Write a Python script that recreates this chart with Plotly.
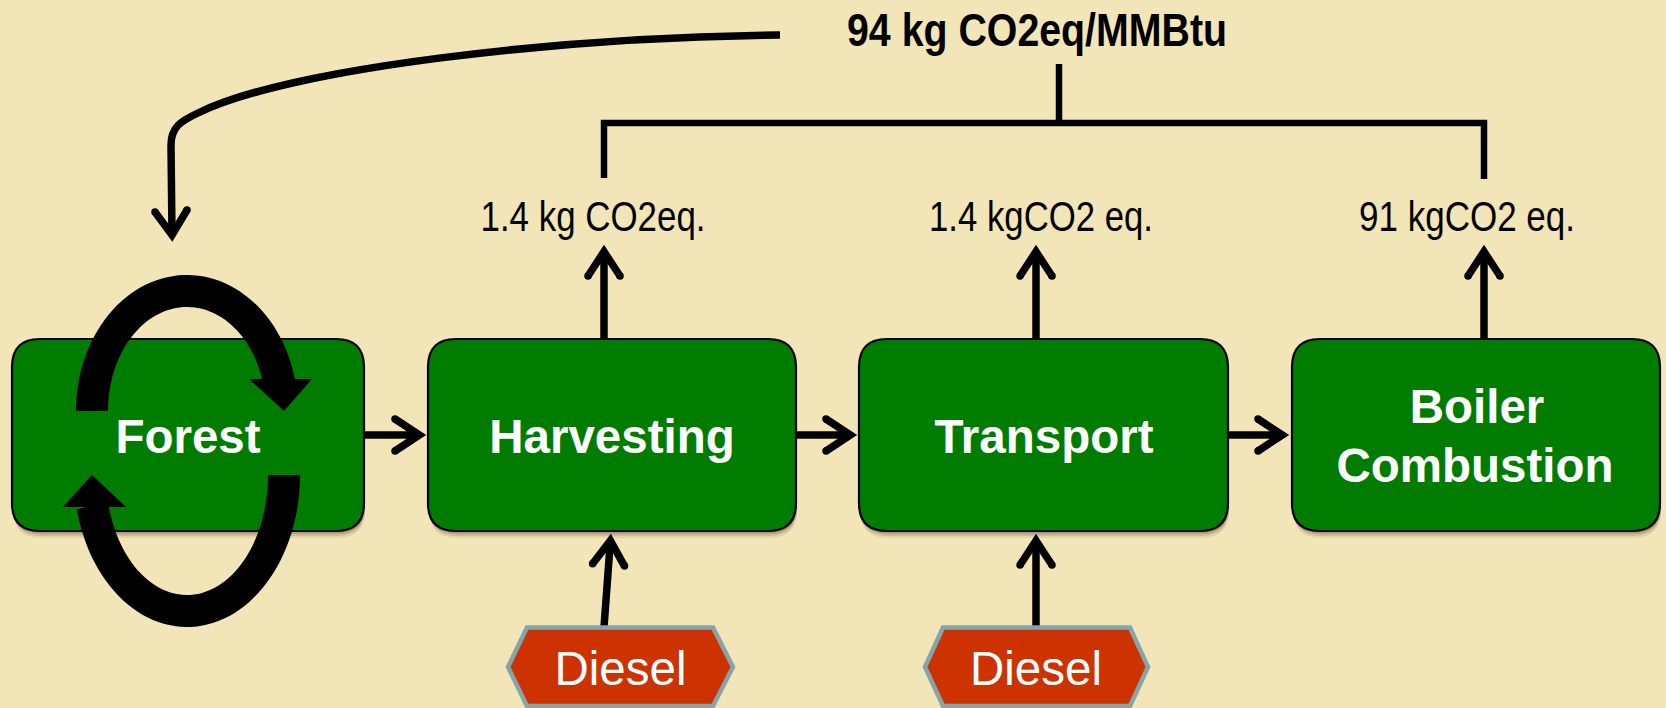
import numpy as np
import plotly.graph_objects as go

# ---- content ----
stage_labels = ["Forest", "Harvesting", "Transport", "Boiler", "Combustion"]
emission_labels = ["1.4 kg CO2eq.", "1.4 kgCO2 eq.", "91 kgCO2 eq."]
total_label = ["94 kg CO2eq/MMBtu"]
fuel_labels = ["Diesel", "Diesel"]

# ---- styles ----
BG = "#F2E6B9"
GREEN = "#007C00"
RED = "#CC3300"
HEX_EDGE = "#86A5A8"
W, H = 1666, 708
shapes = []


def path(d, fill=None, lw=0, color="black", opacity=None):
    s = dict(type="path", path=d, xref="x", yref="y", layer="below",
             line=dict(color=color, width=lw))
    if fill:
        s["fillcolor"] = fill
    if opacity is not None:
        s["opacity"] = opacity
    shapes.append(s)


def rrect_path(x0, y0, x1, y1, r=28):
    return (f"M{x0+r},{y0} L{x1-r},{y0} Q{x1},{y0} {x1},{y0+r} L{x1},{y1-r} Q{x1},{y1} {x1-r},{y1} "
            f"L{x0+r},{y1} Q{x0},{y1} {x0},{y1-r} L{x0},{y0+r} Q{x0},{y0} {x0+r},{y0} Z")


def poly(pts):
    return "M" + " L".join(f"{x:.1f},{y:.1f}" for x, y in pts) + " Z"


def box(x0, x1, y0=339, y1=531):
    for off, op in ((7, .10), (5, .14), (3, .22)):
        path(rrect_path(x0 + 1, y0 + off, x1 + 1, y1 + off), fill="#4a3a10", opacity=op)
    path(rrect_path(x0, y0, x1, y1), fill=GREEN, lw=2.2)


def line(d, lw=6.5):
    path(d, lw=lw)


def dot(x, y, d=7):
    shapes.append(dict(type="circle", xref="x", yref="y", layer="below",
                       x0=x - d / 2, x1=x + d / 2, y0=y - d / 2, y1=y + d / 2,
                       fillcolor="black", line=dict(width=0)))


def arrow(x0, y0, tip_x, tip_y, lw=7.5, length=33, half=16):
    """Open arrow: (tip_x, tip_y) is the outer point of the mitred head."""
    v = np.array([tip_x - x0, tip_y - y0], float)
    u = v / np.linalg.norm(v)
    n = np.array([-u[1], u[0]])
    tip = np.array([tip_x, tip_y], float)
    back = (lw / 2) * np.hypot(length, half) / half
    c = tip - u * back
    a = c - u * (length - back) + n * half
    b = c - u * (length - back) - n * half
    line(f"M{x0},{y0} L{c[0]:.1f},{c[1]:.1f}", lw)
    line(f"M{a[0]:.1f},{a[1]:.1f} L{c[0]:.1f},{c[1]:.1f} L{b[0]:.1f},{b[1]:.1f}", lw)
    dot(*a, lw)
    dot(*b, lw)


def ring_arc(cx, cy, rxo, ryo, rxi, ryi, t0, t1, n=60):
    t = np.radians(np.linspace(t0, t1, n))
    outer = np.c_[cx + rxo * np.cos(t), cy + ryo * np.sin(t)]
    t = t[::-1]
    inner = np.c_[cx + rxi * np.cos(t), cy + ryi * np.sin(t)]
    return poly(np.vstack([outer, inner]))


# boxes
box(12, 364)
box(428, 796)
box(859, 1228)
box(1292, 1660)

# forest cycle arrows
path(ring_arc(187, 411, 111, 136, 79, 104, 180, 346.5), fill="black")
path(poly([(249, 379), (312, 379), (284, 411)]), fill="black")
path(ring_arc(187, 475, 113, 152, 81, 120, 0, 167), fill="black")
path(poly([(63, 507), (126, 507), (92, 475)]), fill="black")

# long curved feedback arrow
line("M780,35 C560,37 290,68 198,113 C181,121 171,127 171,145 L172,234", 7.5)
line("M155,212 L172,235 L187,210", 7.5)
dot(155, 212, 7.5)
dot(187, 210, 7.5)

# bracket
line("M604,178 L604,123 L1484,123 L1484,179")
line("M1059,64 L1059,123")

# flow arrows between boxes
for x0, x1 in ((364, 428), (796, 859), (1228, 1291)):
    arrow(x0, 435, x1, 435)
# emission arrows
for x in (604, 1036, 1484):
    arrow(x, 339, x, 243)
# diesel arrows
arrow(604, 627, 611, 532)
arrow(1036, 627, 1036, 532)

# diesel hexagons
for pts in ([(508, 667), (527, 627.5), (713, 627.5), (733, 667), (713, 706), (527, 706)],
            [(925, 667), (943, 627.5), (1130, 627.5), (1148, 667), (1130, 706), (943, 706)]):
    path(poly(pts), fill=RED, lw=4.5, color=HEX_EDGE)

REG = "Liberation Sans, Arial, sans-serif"

fig = go.Figure()
fig.add_trace(go.Scatter(x=[188, 612, 1044, 1477, 1475],
                         y=[441, 441, 441, 411.5, 470],
                         text=stage_labels, mode="text", textposition="middle center",
                         textfont=dict(family=REG, size=47.5, color="white", weight="bold")))
fig.add_trace(go.Scatter(x=[593, 1041, 1467], y=[220, 220, 220],
                         text=emission_labels, mode="text", textposition="middle center",
                         textfont=dict(family=REG, size=43, color="black")))
fig.add_trace(go.Scatter(x=[1037], y=[34], text=total_label, mode="text",
                         textposition="middle center",
                         textfont=dict(family=REG, size=46, color="black", weight="bold")))
fig.add_trace(go.Scatter(x=[620.5, 1036], y=[673, 673], text=fuel_labels, mode="text",
                         textposition="middle center",
                         textfont=dict(family=REG, size=47.5, color="white")))

fig.update_layout(width=W, height=H, margin=dict(l=0, r=0, t=0, b=0, pad=0),
                  paper_bgcolor=BG, plot_bgcolor=BG, showlegend=False, hovermode=False,
                  shapes=shapes,
                  xaxis=dict(range=[0, W], visible=False, fixedrange=True),
                  yaxis=dict(range=[H, 0], visible=False, fixedrange=True))

# The reference's labels use a condensed face: fit them to their measured widths.
fit_js = """
document.body.style.margin='0';document.body.style.overflow='hidden';document.body.style.background='%s';
var widths={'1.4 kg CO2eq.':225,'1.4 kgCO2 eq.':224,'91 kgCO2 eq.':216,'94 kg CO2eq/MMBtu':380};
document.querySelectorAll('.textpoint text').forEach(function(t){
  var w=widths[t.textContent];
  if(w){t.setAttribute('textLength',w);t.setAttribute('lengthAdjust','spacingAndGlyphs');}
});
""" % BG
fig.write_html("out.html", config=dict(displayModeBar=False), post_script=fit_js)
